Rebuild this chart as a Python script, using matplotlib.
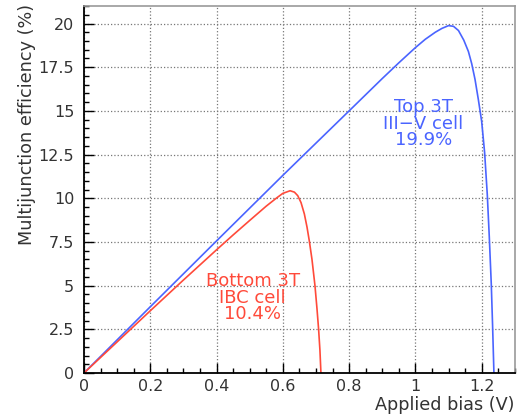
import matplotlib.pyplot as plt
from matplotlib.ticker import MultipleLocator

plt.rcParams['font.family'] = ['DejaVu Sans']

# top cell (III-V)
top_v = [0.0, 0.2, 0.4, 0.6, 0.8, 0.9, 0.95, 1.0, 1.03, 1.06, 1.08, 1.1, 1.115,
         1.13, 1.146, 1.16, 1.17, 1.18, 1.19, 1.2, 1.209, 1.217, 1.223, 1.229,
         1.233, 1.237]
top_eff = [0.0, 3.79, 7.56, 11.31, 15.0, 16.85, 17.75, 18.62, 19.1, 19.5, 19.72,
           19.88, 19.84, 19.6, 19.05, 18.4, 17.7, 16.8, 15.65, 14.4, 12.6, 10.2,
           7.8, 5.1, 2.7, 0.0]

# bottom cell (IBC)
bot_v = [0.0, 0.1, 0.2, 0.3, 0.4, 0.45, 0.5, 0.55, 0.58, 0.6, 0.622, 0.635,
         0.645, 0.655, 0.665, 0.673, 0.68, 0.688, 0.697, 0.703, 0.708, 0.712, 0.715]
bot_eff = [0.0, 1.78, 3.56, 5.32, 7.05, 7.9, 8.73, 9.55, 10.0, 10.28, 10.43, 10.35,
           10.15, 9.75, 9.1, 8.35, 7.55, 6.5, 5.0, 3.7, 2.5, 1.3, 0.0]

blue = '#4a64ff'
red = '#ff4a3a'

fig = plt.figure(figsize=(5.2, 4.17), dpi=100)
ax = fig.add_axes([0.1615, 0.1055, 0.8285, 0.88])

ax.plot(top_v, top_eff, color=blue, lw=1.2)
ax.plot(bot_v, bot_eff, color=red, lw=1.2)

ax.set_xlim(0, 1.3)
ax.set_ylim(0, 21)
ax.set_xticks([0, 0.2, 0.4, 0.6, 0.8, 1.0, 1.2])
ax.set_xticklabels(['0', '0.2', '0.4', '0.6', '0.8', '1', '1.2'])
ax.set_yticks([0, 2.5, 5, 7.5, 10, 12.5, 15, 17.5, 20])
ax.set_yticklabels(['0', '2.5', '5', '7.5', '10', '12.5', '15', '17.5', '20'])
ax.xaxis.set_minor_locator(MultipleLocator(0.05))
ax.yaxis.set_minor_locator(MultipleLocator(0.5))

ax.tick_params(which='both', direction='in', top=False, right=False,
               labelsize=11.5, colors='black', labelcolor='#333333')
ax.tick_params(which='major', length=7, width=1)
ax.tick_params(axis='x', which='major', pad=4)
ax.tick_params(axis='y', which='major', pad=7)
ax.tick_params(which='minor', length=3.5, width=1)

ax.grid(True, which='major', linestyle=':', color='#777777', lw=0.9)
ax.set_axisbelow(True)

for s in ['left', 'bottom']:
    ax.spines[s].set_color('black')
    ax.spines[s].set_linewidth(1.3)
for s in ['top', 'right']:
    ax.spines[s].set_color('#999999')
    ax.spines[s].set_linewidth(1.2)

ax.text(1.024, 14.27, 'Top 3T\nIII\u2212V cell\n19.9%', color=blue, fontsize=13,
        ha='center', va='center', linespacing=0.9)
ax.text(0.509, 4.3, 'Bottom 3T\nIBC cell\n10.4%', color=red, fontsize=13,
        ha='center', va='center', linespacing=0.9)

fig.text(0.052, 0.99, 'Multijunction efficiency (%)', rotation=90,
         ha='center', va='top', fontsize=12.7, color='#333333')
fig.text(0.99, 1 - 405 / 417, 'Applied bias (V)', ha='right', va='center',
         fontsize=12.7, color='#333333')

fig.savefig('out.png', dpi=100)
